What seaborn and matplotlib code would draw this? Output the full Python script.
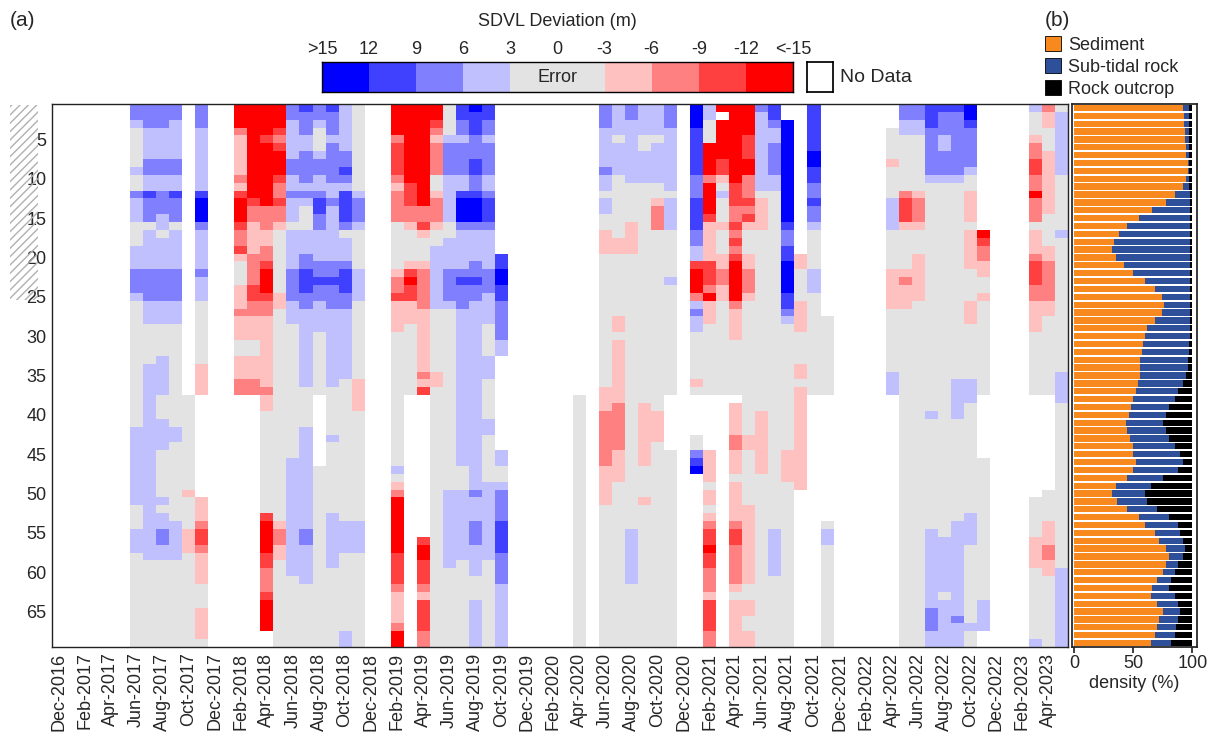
import numpy as np
import pandas as pd
import matplotlib
matplotlib.use("Agg")
import matplotlib.pyplot as plt
import seaborn as sns
from matplotlib.colors import ListedColormap, BoundaryNorm
from matplotlib.patches import Rectangle, Patch

sns.set_theme(style="white")
plt.rcParams["font.family"] = ["Liberation Sans", "DejaVu Sans"]

# ---------------------------------------------------------------- data
months = pd.date_range("2016-12-01", periods=78, freq="MS")
month_labels = [m.strftime("%b-%Y") for m in months]
depth = np.arange(1, 70)

# deviation class (m) for each code letter; W = no survey
DEV = {"W": np.nan, "G": 0.0,
       "l": 4.5, "m": 7.5, "c": 10.5, "d": 14.0,
       "P": -4.5, "Q": -7.5, "C": -10.5, "D": -14.0}

# one profile per month, surface (row 1) to bottom (row 69), as code+run length
profiles = [
    "W69", "W69", "W69", "W69", "W69", "W69",                                   # Dec-16 .. May-17
    "m2 l1 G5 l1 G2 m1 l3 G3 l3 m3 l1 G16 l10 G3 l3 G12",                     # Jun-17
    "m3 l4 m2 l2 c1 m3 G1 l5 m4 l3 G5 l25 G11",                               # Jul-17
    "m3 l4 m2 l2 m3 l2 G1 l4 m4 l3 G4 l5 G3 l4 G6 l1 G1 l2 m2 l2 G11",        # Aug-17
    "m2 l5 m2 l2 c1 m3 G1 l5 m4 l3 G13 l2 G10 l5 G11",                        # Sep-17
    "W37 G12 P1 G4 P3 G12",                                                   # Oct-17
    "m3 l8 c1 d3 m1 l5 m1 l3 G8 P4 W13 P3 Q1 C2 Q1 P4 G3 P4 G1",              # Nov-17
    "W69", "W69",                                                             # Dec-17, Jan-18
    "D3 Q1 P5 Q1 P1 C1 D3 C1 Q2 C1 P1 G3 P3 Q1 P3 G2 P3 Q2 W32",              # Feb-18
    "D12 C1 Q2 P4 Q4 C2 Q2 P3 G2 P3 Q2 W32",                                  # Mar-18
    "D4 C1 D8 Q3 P2 Q2 C1 D3 C1 Q2 P9 Q1 P2 G13 C1 D4 C2 Q3 C1 D4 W2",        # Apr-18
    "D3 C1 Q1 C1 D3 C1 Q2 C1 Q2 P1 G8 P2 G27 P1 Q2 P2 G11",                   # May-18
    "m2 l5 m2 l2 m1 l3 G1 l5 m4 l3 G17 l15 G9",                               # Jun-18
    "c1 m3 l2 m4 l1 m1 l1 G3 l3 m2 c3 m2 l10 G5 l13 m2 l5 G8",                # Jul-18
    "m2 l1 G3 l1 m2 l2 m1 c2 m2 l4 m2 c1 m2 l4 G8 W9 G23",                    # Aug-18
    "c1 m3 l1 m5 l2 m1 l7 m2 c1 m3 l10 G6 l1 G9 l7 G10",                      # Sep-18
    "l6 m2 c1 m1 l1 c4 m1 G1 l3 m1 c3 m2 l9 G18 l4 G10 l2",                   # Oct-18
    "G11 l1 m3 l1 G5 l4 G10 P4 G14 l4 G12",                                   # Nov-18
    "W69", "W69",                                                             # Dec-18, Jan-19
    "D4 Q1 C4 Q1 P1 Q4 G6 P1 Q2 C1 P4 G17 l1 G1 P1 Q1 D7 C4 Q1 P4 Q1 D2",     # Feb-19
    "D10 C3 Q2 P1 G4 P1 C1 D1 C2 P3 G9 W32",                                  # Mar-19
    "D13 Q2 C1 P1 G3 P1 Q5 P8 Q1 P1 C1 W18 C1 D2 C3 Q1 P1 C4 Q2",             # Apr-19
    "D2 C1 Q1 P1 Q4 G2 P1 Q3 P1 G2 l8 G8 P2 G33",                             # May-19
    "G4 l1 m4 l6 G2 l4 m4 l1 G23 l10 G10",                                    # Jun-19
    "c2 m2 l1 m4 l2 c1 d3 m1 l5 m1 c1 m3 l20 G3 l9 G11",                      # Jul-19
    "d1 c3 m3 c2 m2 c1 d3 m1 l4 m2 c1 m2 l24 m1 l3 m3 l4 G3 l6",              # Aug-19
    "c2 m2 l1 m4 l2 m1 c3 m1 l5 m3 l4 G4 l3 G5 l2 G6 l10 G11",                # Sep-19
    "W19 c2 d2 c2 m5 l2 W12 l2 G2 l1 m4 c4 m4 l8",                            # Oct-19
    "W69", "W69", "W69", "W69", "W69",                                        # Nov-19 .. Mar-20
    "W37 G32",                                                                # Apr-20
    "W69",                                                                    # May-20
    "m3 l5 m1 l2 G1 l2 G2 P3 G17 P3 Q7 P5 G18",                               # Jun-20
    "l4 G1 l4 G8 P2 G8 P2 G1 P8 Q6 P4 G21",                                   # Jul-20
    "m2 l8 G5 P4 G35 l7 G8",                                                  # Aug-20
    "l4 G2 l4 G28 P8 G4 P1 G18",                                              # Sep-20
    "l4 G1 l5 G2 P1 Q3 G23 P4 G26",                                           # Oct-20
    "m3 l8 G1 l4 G6 l1 G14 W7 G25",                                           # Nov-20
    "W69",                                                                    # Dec-20
    "d3 c6 m3 c4 m2 l2 C1 D3 Q1 l1 m1 l2 G6 P1 G1 W5 G2 m1 c1 d1 W22",        # Jan-21
    "l2 G3 D4 Q1 D4 C1 P5 C3 Q1 D1 P3 G9 W7 P4 G1 P2 G1 P1 Q1 C2 D1 C2 Q3 P1 C4 Q2",  # Feb-21
    "D1 W1 D5 C2 P1 G1 l1 G3 P1 G3 P2 Q2 P2 G12 W32",                         # Mar-21
    "D10 C3 Q2 C1 Q1 C1 Q1 C1 D5 Q1 P4 G7 W1 P4 Q2 P3 G1 P5 Q1 C2 Q5 P1 G1 P6",  # Apr-21
    "D4 C3 D2 Q3 C1 Q1 C1 P1 G3 P2 Q3 P1 G17 P2 G7 P10 G2 P2 G2 P2",          # May-21
    "m1 l10 G1 P4 G23 P8 G22",                                                # Jun-21
    "c2 m1 l2 m4 l2 G43 l6 G9",                                               # Jul-21
    "W2 d13 c1 m2 c2 d4 c2 m1 l1 G16 P4 G21",                                 # Aug-21
    "W19 P2 G4 P4 G4 P2 G1 P13 W20",                                          # Sep-21
    "c6 d2 c2 m2 c1 m2 l1 G5 l3 G13 W32",                                     # Oct-21
    "W27 G10 W16 G1 l2 G13",                                                  # Nov-21
    "W69", "W69", "W69", "W69",                                               # Dec-21 .. Mar-22
    "W3 G4 P1 G4 l4 G5 P5 G8 l3 W32",                                         # Apr-22
    "m2 l2 G7 Q1 C3 P1 G5 P1 Q1 P3 G43",                                      # May-22
    "m2 l2 G7 P1 Q3 P1 G3 P6 G44",                                            # Jun-22
    "c3 m6 l1 G29 l1 G14 l10 m3 l2",                                          # Jul-22
    "c1 m3 l2 m3 l1 G45 l7 G1 l6",                                            # Aug-22
    "c1 m8 l1 G25 l5 G13 l12 m1 l3",                                          # Sep-22
    "d2 c1 m5 l1 G2 P4 G1 P5 G4 P3 G7 l3 G14 l4 G10 l1 G2",                   # Oct-22
    "W16 D1 C1 Q2 P2 G2 P1 G12 W8 G18 l4 W2",                                 # Nov-22
    "W69", "W69", "W69",                                                      # Dec-22 .. Feb-23
    "l1 G3 P1 Q2 C2 Q2 D1 Q3 G1 P3 Q1 C3 Q2 P4 G8 W13 G5 P4 G9 l1",           # Mar-23
    "Q1 P2 G3 P8 G4 P2 Q5 P2 G10 W12 G4 P3 Q2 P2 G9",                         # Apr-23
    "G1 l8 G7 l1 G17 l4 G21 l10",                                             # May-23
]

# substrate composition per depth row (%)
sediment = [92, 93, 93, 94, 94, 95, 95, 96, 96, 95, 92, 85, 78, 66, 55, 45, 38, 34, 32, 35,
            42, 50, 60, 68, 74, 76, 74, 68, 62, 60, 58, 57, 56, 56, 56, 54, 52, 50, 48, 46,
            44, 45, 47, 50, 50, 52, 50, 45, 35, 32, 36, 45, 55, 60, 68, 72, 78, 80, 78, 75,
            70, 66, 65, 70, 75, 72, 70, 68, 65]
rock_outcrop = [3, 3, 3, 3, 3, 3, 3, 3, 3, 3, 3, 2, 2, 2, 2, 2, 2, 2, 2, 2,
                2, 2, 2, 2, 2, 2, 2, 2, 2, 2, 3, 3, 4, 4, 5, 8, 12, 15, 20, 22,
                25, 22, 20, 15, 10, 8, 12, 25, 35, 40, 38, 30, 20, 12, 10, 8, 6, 8, 12, 15,
                18, 20, 15, 12, 10, 12, 14, 15, 18]
subtidal_rock = [100 - s - r for s, r in zip(sediment, rock_outcrop)]

legend_ticks = [">15", "12", "9", "6", "3", "0", "-3", "-6", "-9", "-12", "<-15"]
legend_values = [14.0, 10.5, 7.5, 4.5, 0.0, 0.0, -4.5, -7.5, -10.5, -14.0]


def expand(runs):
    out = []
    for tok in runs.split():
        out += [DEV[tok[0]]] * int(tok[1:])
    return out


cols = [expand(p) for p in profiles]
bad = [(month_labels[i], len(c)) for i, c in enumerate(cols) if len(c) != len(depth)]
if bad or len(cols) != len(months):
    raise SystemExit(f"profile length problem: {bad} n={len(cols)}")

grid = pd.DataFrame(np.array(cols).T, index=depth, columns=month_labels)

# ---------------------------------------------------------------- styling
bounds = [-100, -12, -9, -6, -3, 3, 6, 9, 12, 100]
palette = ["#ff0000", "#ff4040", "#ff8080", "#ffc0c0", "#e3e3e3",
           "#c0c0ff", "#8080ff", "#4040ff", "#0000ff"]
cmap = ListedColormap(palette)
norm = BoundaryNorm(bounds, cmap.N)

W, H = 1216, 756
fig = plt.figure(figsize=(W / 100, H / 100), dpi=100)


def fax(x0, y0, x1, y1):
    return fig.add_axes([x0 / W, 1 - y1 / H, (x1 - x0) / W, (y1 - y0) / H])


FS = 13

# ---------------------------------------------------------------- panel (a)
ax = fax(52, 104, 1068, 647)
ax.set_facecolor("white")
sns.heatmap(grid, ax=ax, cmap=cmap, norm=norm, cbar=False,
            xticklabels=False, yticklabels=False)
ax.set_xticks(np.arange(0, len(months), 2) + 0.5)
ax.set_xticklabels(month_labels[::2], rotation=90, fontsize=FS)
ytk = [d for d in depth if d % 5 == 0]
ax.set_yticks([d - 0.5 for d in ytk])
ax.set_yticklabels([str(d) for d in ytk], rotation=0, fontsize=FS)
ax.tick_params(axis="both", length=0, pad=4)
ax.set_xlabel("")
ax.set_ylabel("")
for s in ax.spines.values():
    s.set_visible(True)
    s.set_color("#222222")
    s.set_linewidth(1.0)

# hatched band marking the upper depth rows
hatch = Rectangle((10 / W, 1 - 300 / H), 28 / W, 195 / H, transform=fig.transFigure,
                  facecolor="none", edgecolor="#b0b0b0", hatch="////", linewidth=0, zorder=0)
fig.patches.append(hatch)
for t in ax.get_yticklabels():
    t.set_bbox(dict(facecolor="white", edgecolor="none", pad=0.5))

fig.text(10 / W, 1 - 20 / H, "(a)", fontsize=15, ha="left", va="center")

# ---------------------------------------------------------------- colour key
kax = fax(322, 62, 793, 92)
sns.heatmap(np.array([legend_values]), ax=kax, cmap=cmap, norm=norm, cbar=False,
            xticklabels=False, yticklabels=False)
kax.set_xticks(np.arange(11))
kax.set_xticklabels(legend_ticks, fontsize=FS)
kax.xaxis.tick_top()
kax.tick_params(axis="x", length=0, pad=3)
kax.set_yticks([])
kax.text(5, 0.5, "Error", ha="center", va="center", fontsize=FS)
for s in kax.spines.values():
    s.set_visible(True)
    s.set_color("black")
    s.set_linewidth(1.0)
kax.set_title("SDVL Deviation (m)", fontsize=FS, pad=26)

nax = fax(807, 62, 833, 92)
nax.set_xticks([])
nax.set_yticks([])
nax.set_facecolor("white")
for s in nax.spines.values():
    s.set_visible(True)
    s.set_color("black")
fig.text(840 / W, 1 - 77 / H, "No Data", fontsize=FS + 1, ha="left", va="center")

# ---------------------------------------------------------------- panel (b)
bx = fax(1072, 104, 1197, 647)
yb = depth - 0.5
c_sed, c_sub, c_out = "#f7891f", "#2e4f9a", "#000000"
sed = np.array(sediment, float)
sub = np.array(subtidal_rock, float)
out = np.array(rock_outcrop, float)
bx.barh(yb, sed, height=0.8, color=c_sed, linewidth=0)
bx.barh(yb, sub, left=sed, height=0.8, color=c_sub, linewidth=0)
bx.barh(yb, out, left=sed + sub, height=0.8, color=c_out, linewidth=0)
bx.set_ylim(len(depth), 0)
bx.set_xlim(-2, 104)
bx.set_yticks([])
bx.set_xticks([0, 50, 100])
bx.set_xticklabels(["0", "50", "100"], fontsize=FS)
bx.tick_params(axis="x", length=4, pad=2, bottom=True)
bx.set_xlabel("density (%)", fontsize=FS, labelpad=2)
for s in bx.spines.values():
    s.set_visible(True)
    s.set_color("#222222")

fig.text(1045 / W, 1 - 20 / H, "(b)", fontsize=15, ha="left", va="center")
handles = [Patch(facecolor=c_sed, edgecolor="black", linewidth=0.6, label="Sediment"),
           Patch(facecolor=c_sub, edgecolor="black", linewidth=0.6, label="Sub-tidal rock"),
           Patch(facecolor=c_out, edgecolor="black", linewidth=0.6, label="Rock outcrop")]
fig.legend(handles=handles, loc="upper left", bbox_to_anchor=(1045 / W, 1 - 36 / H),
           frameon=False, fontsize=FS, handlelength=0.9, handleheight=0.9,
           handletextpad=0.4, labelspacing=0.25, borderaxespad=0, borderpad=0)

fig.savefig("out.png", dpi=100)
